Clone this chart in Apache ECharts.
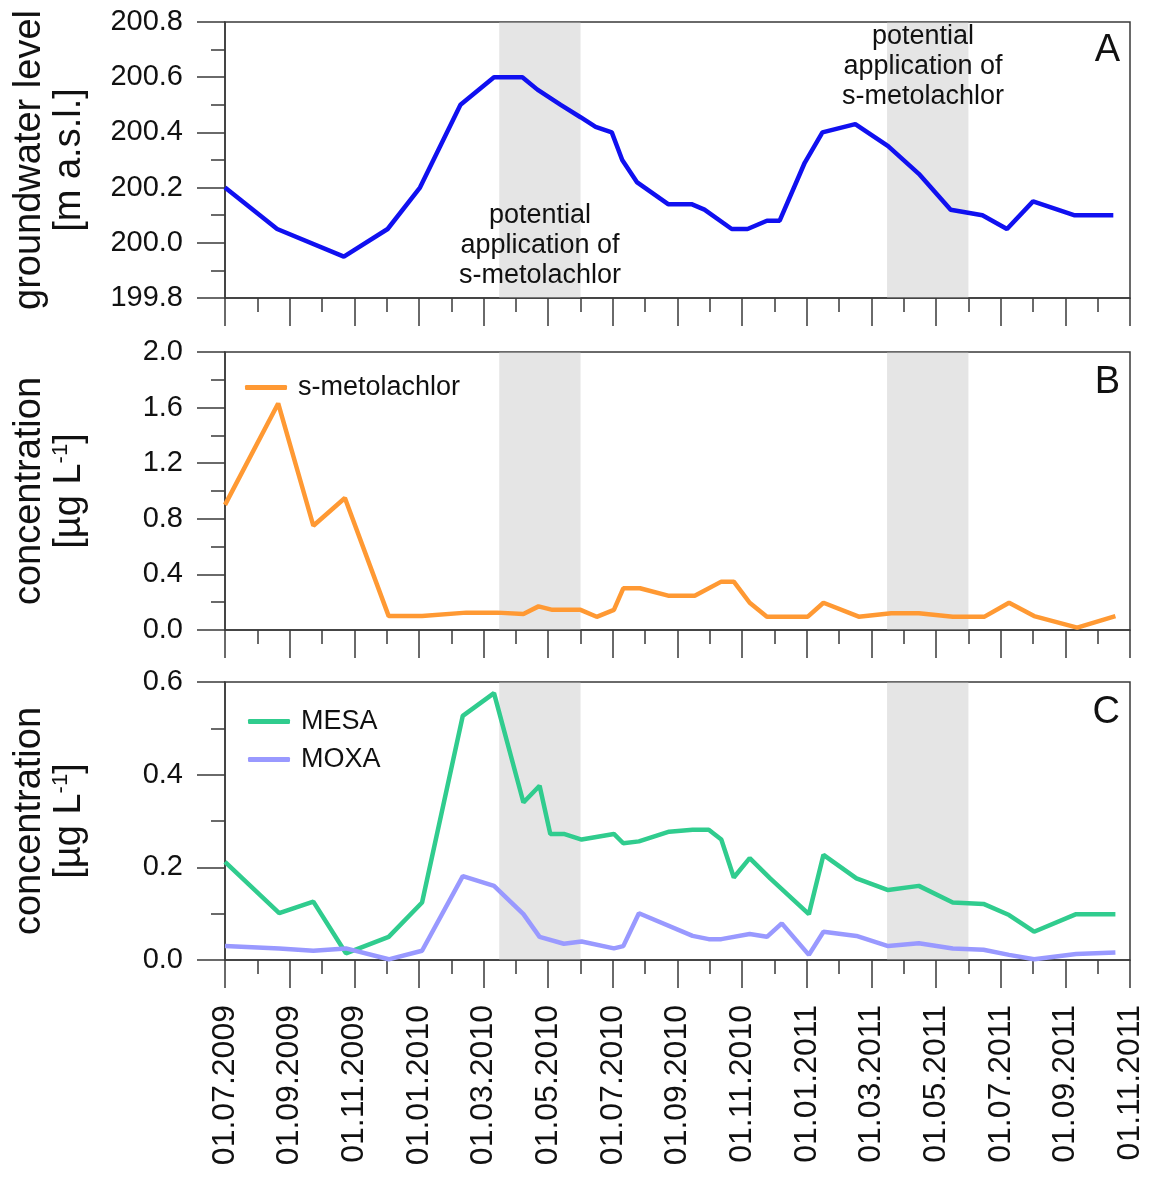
<!DOCTYPE html>
<html>
<head>
<meta charset="utf-8">
<script src="https://cdn.jsdelivr.net/npm/echarts@6/dist/echarts.min.js"></script>
<style>
html, body { margin: 0; padding: 0; background: #fff; }
#chart { width: 1151px; height: 1178px; }
</style>
</head>
<body>
<div id="chart"></div>
<script>
// groundwater level (panel A)
const levelDates = ['2009-07-01', '2009-08-20', '2009-10-22', '2009-12-02', '2010-01-02', '2010-02-09', '2010-03-11', '2010-04-07',
    '2010-04-21', '2010-05-13', '2010-06-01', '2010-06-15', '2010-06-30', '2010-07-10', '2010-07-24', '2010-08-23', '2010-09-14',
    '2010-09-26', '2010-10-22', '2010-11-06', '2010-11-24', '2010-12-06', '2010-12-30', '2011-01-16', '2011-02-15', '2011-03-17',
    '2011-04-15', '2011-05-15', '2011-06-14', '2011-07-07', '2011-08-01', '2011-09-09', '2011-10-16'];
const levelValues = [200.2, 200.05, 199.95, 200.05, 200.2, 200.5, 200.6, 200.6, 200.555, 200.5, 200.455, 200.42, 200.4, 200.3,
    200.22, 200.14, 200.14, 200.12, 200.05, 200.05, 200.08, 200.08, 200.29, 200.4, 200.43, 200.35, 200.25, 200.12, 200.1, 200.05,
    200.15, 200.1, 200.1];

// s-metolachlor (panel B)
const smetoDates = ['2009-07-01', '2009-08-21', '2009-09-23', '2009-10-23', '2009-12-03', '2010-01-04', '2010-02-14', '2010-03-14',
    '2010-04-08', '2010-04-22', '2010-05-05', '2010-06-01', '2010-06-16', '2010-07-02', '2010-07-11', '2010-07-27', '2010-08-23',
    '2010-09-17', '2010-10-12', '2010-10-24', '2010-11-08', '2010-11-24', '2011-01-02', '2011-01-17', '2011-02-18', '2011-03-20',
    '2011-04-15', '2011-05-17', '2011-06-16', '2011-07-09', '2011-08-02', '2011-09-12', '2011-10-18'];
const smetoValues = [0.90, 1.63, 0.75, 0.95, 0.10, 0.10, 0.125, 0.125, 0.115, 0.17, 0.145, 0.145, 0.095, 0.145, 0.30, 0.30, 0.247,
    0.247, 0.348, 0.348, 0.196, 0.096, 0.096, 0.196, 0.096, 0.12, 0.12, 0.096, 0.096, 0.196, 0.10, 0.017, 0.10];

// MESA / MOXA (panel C)
const mesaDates = ['2009-07-01', '2009-08-22', '2009-09-23', '2009-10-24', '2009-12-03', '2010-01-04', '2010-02-11', '2010-03-11',
    '2010-04-08', '2010-04-23', '2010-05-03', '2010-05-16', '2010-06-02', '2010-07-02', '2010-07-11', '2010-07-26', '2010-08-24',
    '2010-09-15', '2010-09-30', '2010-10-12', '2010-10-24', '2010-11-08', '2010-11-27', '2011-01-03', '2011-01-17', '2011-02-16',
    '2011-03-17', '2011-04-15', '2011-05-17', '2011-06-15', '2011-07-09', '2011-08-02', '2011-09-11', '2011-10-18'];
const mesaValues = [0.212, 0.101, 0.126, 0.0145, 0.05, 0.124, 0.527, 0.576, 0.34, 0.376, 0.272, 0.272, 0.26, 0.272, 0.252, 0.256,
    0.277, 0.281, 0.281, 0.26, 0.178, 0.22, 0.176, 0.099, 0.227, 0.176, 0.151, 0.16, 0.124, 0.121, 0.097, 0.061, 0.099, 0.099];
const moxaDates = ['2009-07-01', '2009-08-22', '2009-09-23', '2009-10-24', '2009-12-03', '2010-01-04', '2010-02-11', '2010-03-11',
    '2010-04-08', '2010-04-23', '2010-05-16', '2010-06-02', '2010-07-02', '2010-07-11', '2010-07-26', '2010-09-15', '2010-09-30',
    '2010-10-12', '2010-11-08', '2010-11-24', '2010-12-08', '2011-01-03', '2011-01-17', '2011-02-16', '2011-03-17', '2011-04-15',
    '2011-05-17', '2011-06-15', '2011-07-09', '2011-08-02', '2011-09-11', '2011-10-18'];
const moxaValues = [0.030, 0.025, 0.020, 0.025, 0.0015, 0.020, 0.181, 0.160, 0.099, 0.050, 0.035, 0.040, 0.025, 0.030, 0.101,
    0.052, 0.045, 0.045, 0.056, 0.050, 0.079, 0.011, 0.061, 0.052, 0.030, 0.036, 0.025, 0.022, 0.011, 0.0015, 0.013, 0.016];

// application periods (grey bands)
const bandStarts = ['2010-03-16', '2011-03-16'];
const bandEnds = ['2010-06-01', '2011-06-01'];

const annotationText = 'potential\napplication of\ns-metolachlor';
const fontFamily = '"Liberation Sans", Arial, sans-serif';
const ink = '#111';
const frame = '#3a3a3a';

// months since 01.07.2009 (fractional)
function toMonth(s) {
    const [y, m, d] = s.split('-').map(Number);
    const dim = new Date(y, m, 0).getDate();
    return (y - 2009) * 12 + (m - 7) + (d - 1) / dim;
}

function pairs(dates, values) {
    return dates.map((d, i) => [toMonth(d), values[i]]);
}

function monthLabel(v) {
    const idx = Math.round(v) + 6;
    const year = 2009 + Math.floor(idx / 12);
    const month = (idx % 12) + 1;
    return '01.' + (month < 10 ? '0' + month : month) + '.' + year;
}

const bands = bandStarts.map((s, i) => [{xAxis: toMonth(s)}, {xAxis: toMonth(bandEnds[i])}]);

const grids = [
    {left: 225, right: 21, top: 22, height: 276},
    {left: 225, right: 21, top: 352, height: 278},
    {left: 225, right: 21, top: 682, height: 278}
];

function makeXAxis(gridIndex, showLabels) {
    return {
        type: 'value',
        gridIndex: gridIndex,
        min: 0,
        max: 28,
        interval: 2,
        axisLine: {lineStyle: {color: frame, width: 1.5}},
        axisTick: {show: true, length: 28, lineStyle: {color: frame, width: 1.5}},
        minorTick: {show: true, splitNumber: 2, length: 14, lineStyle: {color: frame, width: 1.5}},
        splitLine: {show: false},
        minorSplitLine: {show: false},
        axisLabel: {
            show: showLabels,
            rotate: 90,
            margin: 45,
            fontSize: 32,
            fontFamily: fontFamily,
            color: ink,
            formatter: monthLabel
        }
    };
}

function makeYAxis(gridIndex, min, max, interval, name, nameRich) {
    return {
        type: 'value',
        gridIndex: gridIndex,
        min: min,
        max: max,
        interval: interval,
        name: name,
        nameLocation: 'middle',
        nameRotate: 90,
        nameGap: 135,
        nameTextStyle: {fontSize: 38, lineHeight: 40, fontFamily: fontFamily, color: ink, rich: nameRich},
        axisLine: {show: true, lineStyle: {color: frame, width: 1.5}},
        axisTick: {show: true, length: 28, lineStyle: {color: frame, width: 1.5}},
        minorTick: {show: true, splitNumber: 2, length: 14, lineStyle: {color: frame, width: 1.5}},
        splitLine: {show: false},
        minorSplitLine: {show: false},
        axisLabel: {
            margin: 42,
            fontSize: 29,
            fontFamily: fontFamily,
            color: ink,
            formatter: v => v.toFixed(1)
        }
    };
}

const concRich = {
    a: {fontSize: 38, lineHeight: 40, fontFamily: fontFamily, color: ink},
    s: {fontSize: 22, lineHeight: 40, fontFamily: fontFamily, color: ink, verticalAlign: 'top', padding: [0, 0, 14, 0]}
};
const concName = 'concentration\n{a|[µg L}{s|-1}{a|]}';

const bandArea = {
    silent: true,
    itemStyle: {color: 'rgba(190,190,190,0.4)'},
    data: bands
};

const legendText = {fontSize: 27, fontFamily: fontFamily, color: ink, padding: [0, 0, 0, 6]};
const annotationStyle = {fontSize: 27, lineHeight: 30, align: 'center', fontFamily: fontFamily, fill: ink};

var chartDom = document.getElementById('chart');
var myChart = echarts.init(chartDom);
var option = {
    backgroundColor: '#fff',
    animation: false,
    grid: grids.map(g => Object.assign({show: true, borderColor: frame, borderWidth: 1.5, backgroundColor: 'transparent'}, g)),
    xAxis: [makeXAxis(0, false), makeXAxis(1, false), makeXAxis(2, true)],
    yAxis: [
        makeYAxis(0, 199.8, 200.8, 0.2, 'groundwater level\n[m a.s.l.]'),
        makeYAxis(1, 0, 2, 0.4, concName, concRich),
        makeYAxis(2, 0, 0.6, 0.2, concName, concRich)
    ],
    legend: [
        {
            data: ['s-metolachlor'],
            left: 240, top: 369,
            icon: 'roundRect', itemWidth: 42, itemHeight: 5,
            textStyle: legendText
        },
        {
            data: ['MESA', 'MOXA'],
            orient: 'vertical',
            left: 243, top: 703,
            itemGap: 11,
            icon: 'roundRect', itemWidth: 42, itemHeight: 5,
            textStyle: legendText
        }
    ],
    graphic: [
        {type: 'text', z: 100, right: 31, top: 32, style: {text: 'A', fontSize: 38, fontFamily: fontFamily, fill: ink}},
        {type: 'text', z: 100, right: 31, top: 364, style: {text: 'B', fontSize: 38, fontFamily: fontFamily, fill: ink}},
        {type: 'text', z: 100, right: 31, top: 694, style: {text: 'C', fontSize: 38, fontFamily: fontFamily, fill: ink}},
        {type: 'text', z: 100, x: 540, y: 201, style: Object.assign({text: annotationText}, annotationStyle)},
        {type: 'text', z: 100, x: 923, y: 22, style: Object.assign({text: annotationText}, annotationStyle)}
    ],
    series: [
        {
            name: 'groundwater level', type: 'line', xAxisIndex: 0, yAxisIndex: 0,
            data: pairs(levelDates, levelValues), symbol: 'none',
            lineStyle: {color: '#1010f0', width: 4.5}, itemStyle: {color: '#1010f0'},
            markArea: bandArea
        },
        {
            name: 's-metolachlor', type: 'line', xAxisIndex: 1, yAxisIndex: 1,
            data: pairs(smetoDates, smetoValues), symbol: 'none',
            lineStyle: {color: '#ff9933', width: 4.5}, itemStyle: {color: '#ff9933'},
            markArea: bandArea
        },
        {
            name: 'MESA', type: 'line', xAxisIndex: 2, yAxisIndex: 2,
            data: pairs(mesaDates, mesaValues), symbol: 'none',
            lineStyle: {color: '#30cc8e', width: 4.5}, itemStyle: {color: '#30cc8e'},
            markArea: bandArea
        },
        {
            name: 'MOXA', type: 'line', xAxisIndex: 2, yAxisIndex: 2,
            data: pairs(moxaDates, moxaValues), symbol: 'none',
            lineStyle: {color: '#9999ff', width: 4.5}, itemStyle: {color: '#9999ff'}
        }
    ]
};
myChart.setOption(option);
</script>
</body>
</html>
